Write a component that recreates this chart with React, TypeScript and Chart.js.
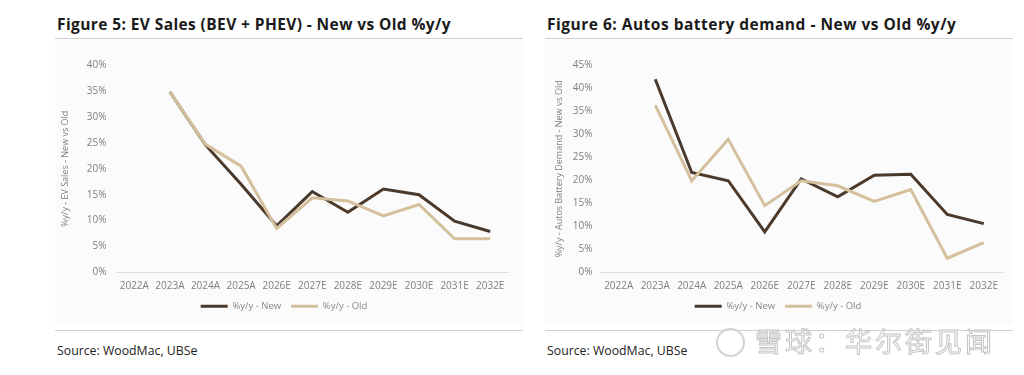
import React, { useEffect, useRef } from "react";
import { Chart, registerables } from "chart.js";

Chart.register(...registerables);

const categories = ["2022A", "2023A", "2024A", "2025A", "2026E", "2027E", "2028E", "2029E", "2030E", "2031E", "2032E"];

const evNew = [null, 34.8, 24.6, 17.0, 9.0, 15.6, 11.6, 16.1, 15.0, 9.9, 7.9];
const evOld = [null, 34.8, 24.7, 20.5, 8.5, 14.4, 13.8, 10.9, 13.1, 6.5, 6.5];

const batNew = [null, 41.9, 21.7, 19.9, 8.8, 20.3, 16.4, 21.1, 21.3, 12.6, 10.6];
const batOld = [null, 36.3, 19.9, 28.9, 14.5, 19.9, 18.8, 15.4, 18.0, 3.1, 6.5];

const seriesNames = ["%y/y - New", "%y/y - Old"];
const NEW_COLOR = "#4b3a2c";
const OLD_COLOR = "#d4c09c";
const FONT = "'Open Sans', 'Noto Sans', sans-serif";

type PanelProps = {
  newVals: (number | null)[];
  oldVals: (number | null)[];
  yMax: number;
  yTitle: string;
  leftPad: number;
  rightPad: number;
  titlePad: number;
  tickPad: number;
};

function LineChart({ newVals, oldVals, yMax, yTitle, leftPad, rightPad, titlePad, tickPad }: PanelProps) {
  const ref = useRef<HTMLCanvasElement | null>(null);
  useEffect(() => {
    if (!ref.current) return;
    const chart = new Chart(ref.current, {
      type: "line",
      data: {
        labels: categories,
        datasets: [
          { label: seriesNames[0], data: newVals, borderColor: NEW_COLOR, backgroundColor: NEW_COLOR, borderWidth: 3, pointRadius: 0, tension: 0, order: 2 },
          { label: seriesNames[1], data: oldVals, borderColor: OLD_COLOR, backgroundColor: OLD_COLOR, borderWidth: 3, pointRadius: 0, tension: 0, order: 1 },
        ],
      },
      options: {
        animation: false,
        responsive: false,
        maintainAspectRatio: false,
        layout: { padding: { left: leftPad, right: rightPad, top: 25, bottom: 4 } },
        plugins: {
          legend: {
            position: "bottom",
            labels: {
              boxWidth: 27,
              boxHeight: 3,
              color: "#888888",
              font: { family: FONT, size: 9.5 },
              padding: 10,
              sort: (a: any, b: any) => a.datasetIndex - b.datasetIndex,
              generateLabels: (c: any) =>
                Chart.defaults.plugins.legend.labels.generateLabels(c).map((it: any) => ({ ...it, lineWidth: 0 })),
            },
          },
          tooltip: { enabled: false },
        },
        scales: {
          x: {
            offset: true,
            grid: { display: false, drawTicks: false, offset: true },
            border: { display: true, color: "#dcdcdc", width: 1 },
            ticks: { color: "#7f7f7f", font: { family: FONT, size: 10 }, padding: 8, maxRotation: 0, autoSkip: false },
            afterFit: (scale: any) => {
              scale.height -= 9;
            },
          },
          y: {
            min: 0,
            max: yMax,
            grid: { display: false, drawTicks: false },
            border: { display: false },
            ticks: { stepSize: 5, color: "#7f7f7f", font: { family: FONT, size: 10 }, padding: tickPad, callback: (v: any) => v + "%" },
            title: { display: true, text: yTitle, color: "#7f7f7f", font: { family: FONT, size: 9 }, padding: { top: 0, bottom: titlePad } },
          },
        },
      },
    });
    return () => chart.destroy();
  }, []);
  return <canvas ref={ref} width={468} height={285} style={{ display: "block", width: 468, height: 285 }} />;
}

function Panel({ left, title, spacing, children }: { left: number; title: string; spacing: number; children: React.ReactNode }) {
  return (
    <div style={{ position: "absolute", left, top: 0, width: 470 }}>
      <div style={{ position: "absolute", left: 2, top: 12.5, fontFamily: FONT, fontWeight: 700, fontSize: 15.5, letterSpacing: spacing, lineHeight: "normal", color: "#1a1a1a", whiteSpace: "nowrap" }}>{title}</div>
      <div style={{ position: "absolute", left: 0, top: 38, width: 468, height: 1, background: "#cfcfcf" }} />
      <div style={{ position: "absolute", left: 0, top: 40, width: 468, height: 285, background: "#fbfbfb" }}>{children}</div>
      <div style={{ position: "absolute", left: 0, top: 330, width: 468, height: 1, background: "#cfcfcf" }} />
      <div style={{ position: "absolute", left: 2, top: 342, fontFamily: FONT, fontSize: 12.3, color: "#222", whiteSpace: "nowrap" }}>Source: WoodMac, UBSe</div>
    </div>
  );
}

export default function App() {
  return (
    <div style={{ position: "absolute", left: 0, top: 0, width: 1024, height: 375, background: "#fff", overflow: "hidden" }}>
      <Panel left={55} spacing={0.4} title="Figure 5: EV Sales (BEV + PHEV) - New vs Old %y/y">
        <LineChart newVals={evNew} oldVals={evOld} yMax={40} yTitle="%y/y - EV Sales - New vs Old" leftPad={5} rightPad={15} titlePad={6} tickPad={10} />
      </Panel>
      <Panel left={545} spacing={0.5} title="Figure 6: Autos battery demand - New vs Old %y/y">
        <LineChart newVals={batNew} oldVals={batOld} yMax={45} yTitle="%y/y - Autos Battery Demand - New vs Old" leftPad={9} rightPad={11} titlePad={0} tickPad={8} />
      </Panel>
      <div style={{ position: "absolute", left: 716, top: 328, width: 25, height: 25, borderRadius: "50%", border: "2px solid #d2d2d2", background: "rgba(255,255,255,0.6)" }} />
      <div style={{ position: "absolute", left: 755, top: 321, fontFamily: "'Noto Sans CJK SC', sans-serif", fontSize: 27, color: "rgba(255,255,255,0.7)", WebkitTextStroke: "1px #c4c4c4", whiteSpace: "nowrap", letterSpacing: 3 }}>雪球：华尔街见闻</div>
    </div>
  );
}
